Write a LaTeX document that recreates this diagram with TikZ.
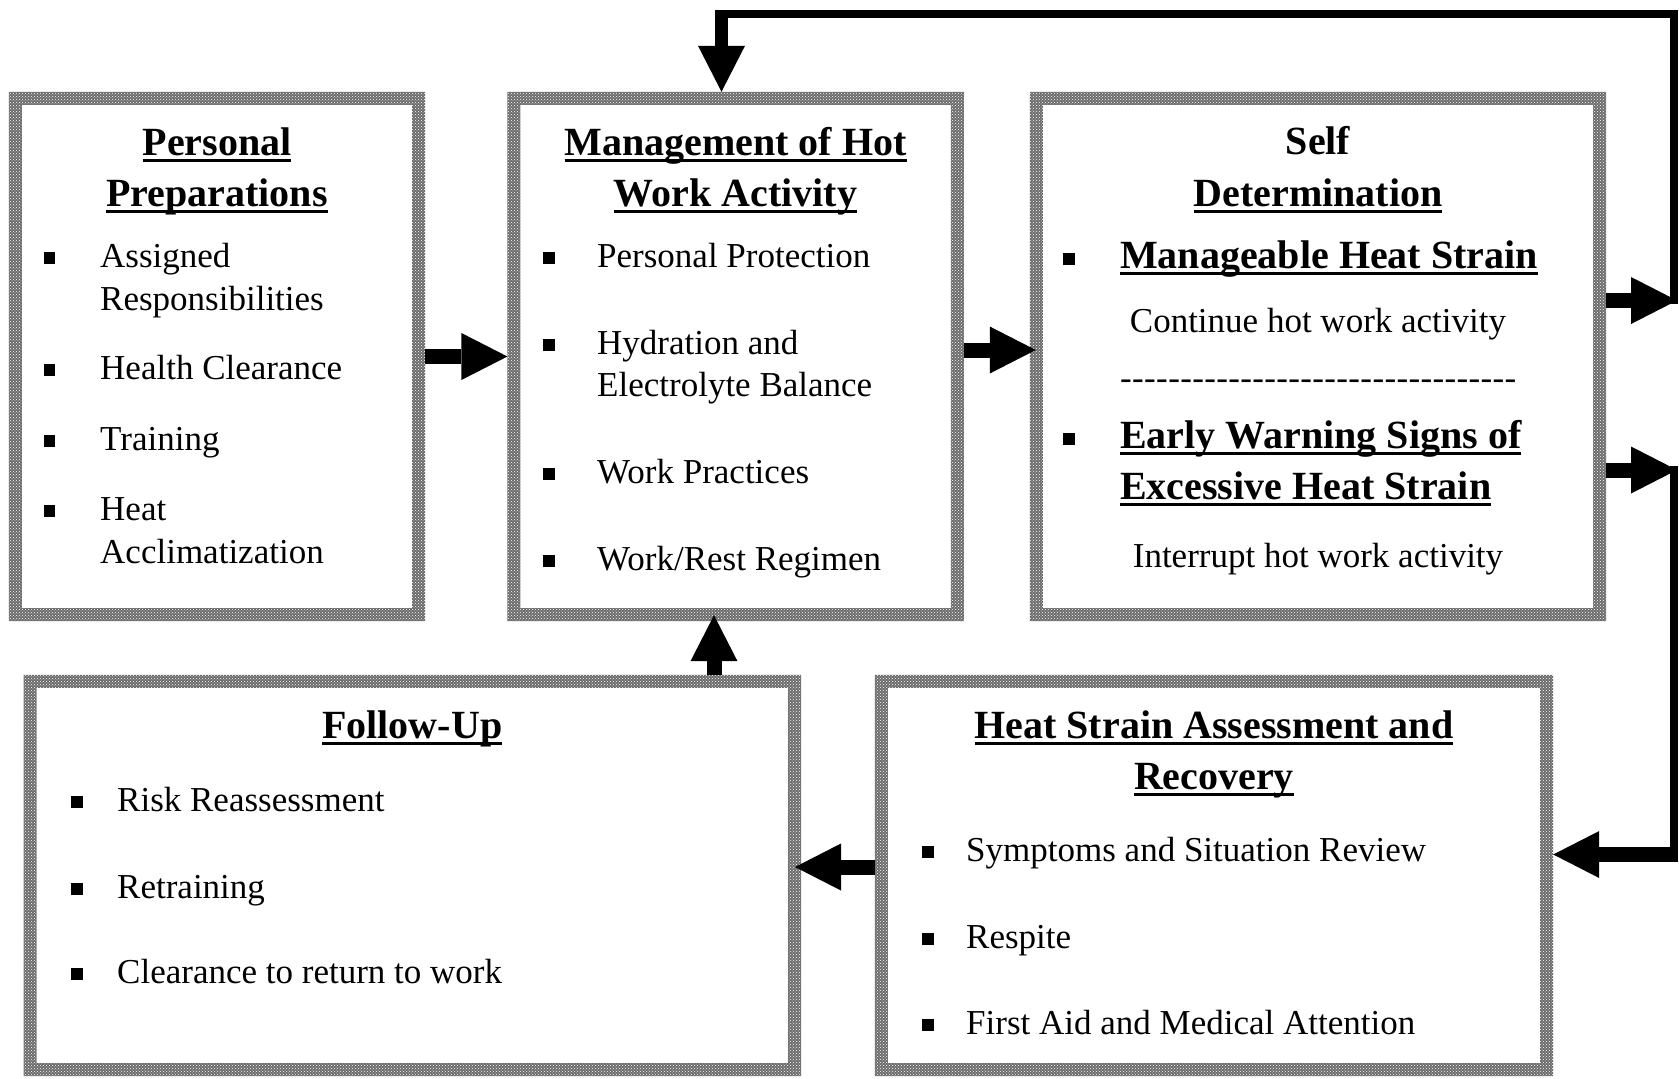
\documentclass[tikz,border=0pt]{standalone}
\usepackage{fontspec}
\setmainfont{Liberation Serif}
\usepackage{tikz}
\usetikzlibrary{arrows.meta}
\usetikzlibrary{patterns}

\newcommand{\sqb}{\rule[3.5pt]{11.5pt}{11.5pt}}
\newcommand{\ulhead}[1]{\setbox0\hbox{#1}\rlap{\rule[-6.5pt]{\wd0}{3pt}}\box0}
\newcommand{\bodyfont}{\fontsize{35}{42}\selectfont}
\newcommand{\headfont}{\fontsize{40}{48}\selectfont\bfseries}

\begin{document}
\begin{tikzpicture}[x=1pt,y=-1pt,
	hotbox/.style={inner sep=0pt,draw=none},
	frame/.style={even odd rule,fill=black!58,postaction={even odd rule,pattern=crosshatch dots,pattern color=white}},
	bigarrow/.style={line width=15pt,-{Triangle[width=47pt,length=46pt,line width=0pt]}},
	loopline/.style={line width=8pt},
	head/.style={inner sep=0pt,anchor=base,font=\headfont},
	txt/.style={inner sep=0pt,anchor=base west,font=\bodyfont},
	ctxt/.style={inner sep=0pt,anchor=base,font=\bodyfont}]
	\useasboundingbox (0,0) rectangle (1679,1079);

	% boxes
	\node[hotbox,minimum width=416pt,minimum height=529pt] (b1) at (217,356.5) {};
	\node[hotbox,minimum width=456pt,minimum height=529pt] (b2) at (735.6,356.5) {};
	\node[hotbox,minimum width=576pt,minimum height=529pt] (b3) at (1318,356.5) {};
	\node[hotbox,minimum width=777pt,minimum height=401pt] (b4) at (412.3,875.5) {};
	\node[hotbox,minimum width=678pt,minimum height=401pt] (b5) at (1214,875.5) {};
	\foreach \b in {b1,b2,b3,b4,b5}
		\fill[frame] (\b.north west) rectangle (\b.south east)
			([xshift=13pt,yshift=-13pt]\b.north west) rectangle ([xshift=-13pt,yshift=13pt]\b.south east);

	% Personal Preparations
	\node[head] (h1a) at (b1 |- 0,155) {\ulhead{Personal}};
	\node[head] (h1b) at (b1 |- 0,206) {\ulhead{Preparations}};
	\node[txt] (p1) at (100,267) {\llap{\sqb\hspace{45pt}}Assigned};
	\node[txt] (p1b) at (100,310) {Responsibilities};
	\node[txt] (p2) at (100,379) {\llap{\sqb\hspace{45pt}}Health Clearance};
	\node[txt] (p3) at (100,450) {\llap{\sqb\hspace{45pt}}Training};
	\node[txt] (p4) at (100,520) {\llap{\sqb\hspace{45pt}}Heat};
	\node[txt] (p4b) at (100,563) {Acclimatization};

	% Management of Hot Work Activity
	\node[head] (h2a) at (b2 |- 0,155) {\ulhead{Management of Hot}};
	\node[head] (h2b) at (b2 |- 0,206) {\ulhead{Work Activity}};
	\node[txt] (m1) at (597,267) {\llap{\sqb\hspace{42.5pt}}Personal Protection};
	\node[txt] (m2) at (597,354) {\llap{\sqb\hspace{42.5pt}}Hydration and};
	\node[txt] (m2b) at (597,396) {Electrolyte Balance};
	\node[txt] (m3) at (597,483) {\llap{\sqb\hspace{42.5pt}}Work Practices};
	\node[txt] (m4) at (597,570) {\llap{\sqb\hspace{42.5pt}}Work/Rest Regimen};

	% Self Determination
	\node[head] (h3a) at (b3 |- 0,154) {Self};
	\node[head] (h3b) at (b3 |- 0,206) {\ulhead{Determination}};
	\node[head,anchor=base west] (s1) at (1120,268) {\llap{\sqb\hspace{45.5pt}}\ulhead{Manageable Heat Strain}};
	\node[ctxt] (s1t) at (b3 |- 0,332) {Continue hot work activity};
	\node[txt] (sdash) at (1120,389) {\foreach \i in {1,...,33}{-\kern0.36pt}};
	\node[head,anchor=base west] (s2) at (1120,448) {\llap{\sqb\hspace{45.5pt}}\ulhead{Early Warning Signs of}};
	\node[head,anchor=base west] (s2b) at (1120,499) {\ulhead{Excessive Heat Strain}};
	\node[ctxt] (s2t) at (b3 |- 0,567) {Interrupt hot work activity};

	% Follow-Up
	\node[head] (h4) at (b4 |- 0,738) {\ulhead{Follow-Up}};
	\node[txt] (f1) at (117,811) {\llap{\sqb\hspace{34.5pt}}Risk Reassessment};
	\node[txt] (f2) at (117,898) {\llap{\sqb\hspace{34.5pt}}Retraining};
	\node[txt] (f3) at (117,983) {\llap{\sqb\hspace{34.5pt}}Clearance to return to work};

	% Heat Strain Assessment and Recovery
	\node[head] (h5a) at (b5 |- 0,738) {\ulhead{Heat Strain Assessment and}};
	\node[head] (h5b) at (b5 |- 0,789) {\ulhead{Recovery}};
	\node[txt] (r1) at (966,861) {\llap{\sqb\hspace{32.5pt}}Symptoms and Situation Review};
	\node[txt] (r2) at (966,948) {\llap{\sqb\hspace{32.5pt}}Respite};
	\node[txt] (r3) at (966,1034) {\llap{\sqb\hspace{32.5pt}}First Aid and Medical Attention};

	% arrows
	\coordinate (t1) at (1677,300.5);
	\coordinate (v1) at (1674,304);
	\coordinate (tl) at (721.5,13.5);
	\coordinate (t2) at (1677,470);
	\coordinate (v2) at (1674,466);
	\coordinate (c2) at (1674,854.5);
	\coordinate (up) at (714,0);

	\draw[bigarrow] (b1.east) -- (b2.west);
	\draw[bigarrow] ([yshift=6.5pt]b2.east) -- ([yshift=6.5pt,xshift=6pt]b3.west);
	\draw[bigarrow] ([yshift=56pt]b3.east) -- (t1);
	\draw[loopline] (v1) |- (tl);
	\draw[bigarrow,line width=13pt] ([yshift=3.5pt]tl) -- (tl |- b2.north);
	\draw[bigarrow] ([yshift=-113.5pt]b3.east) -- (t2);
	\draw[loopline] (v2) -- (c2);
	\draw[bigarrow] ([xshift=4pt]c2) -- (b5.east |- c2);
	\draw[bigarrow] ([yshift=8.5pt]b5.west) -- ([yshift=8.5pt,xshift=-6pt]b4.east);
	\draw[bigarrow] (up |- b4.north) -- ([yshift=6pt]up |- b2.south);
\end{tikzpicture}
\end{document}
